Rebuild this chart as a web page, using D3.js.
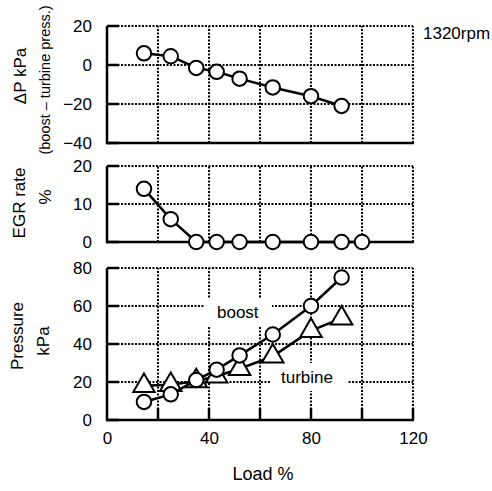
<!DOCTYPE html>
<html>
<head>
<meta charset="utf-8">
<script src="https://cdn.jsdelivr.net/npm/d3@7"></script>
<style>
  body { margin: 0; background: #fff; }
  text { font-family: "Liberation Sans", Arial, sans-serif; fill: #000; }
</style>
</head>
<body>
<svg id="chart" width="492" height="491"></svg>
<script>
// values
let load = [14.5, 25, 35, 43, 52, 65, 80, 92];
let egrLoad = [14.5, 25, 35, 43, 52, 65, 80, 92, 100];
let deltaP = [6, 4.5, -1.5, -3.5, -7, -11.5, -16, -21];
let egrRate = [14, 6, 0, 0, 0, 0, 0, 0, 0];
let boost = [9.5, 13.5, 21, 26.5, 34, 45, 60, 75];
let turbine = [18, 18.5, 20.5, 23, 27, 33.5, 47, 53.5];
let xTicks = [0, 40, 80, 120];
let xGrid = [20, 40, 60, 80, 100, 120];

var svg = d3.select('#chart');

var x = d3.scaleLinear().domain([0, 120]).range([107, 413]);

var panels = [
    { y: d3.scaleLinear().domain([-40, 20]).range([143, 26]), ticks: [-40, -20, 0, 20], xTicks: false },
    { y: d3.scaleLinear().domain([0, 20]).range([242, 166]), ticks: [0, 10, 20], xTicks: false },
    { y: d3.scaleLinear().domain([0, 80]).range([420, 268]), ticks: [0, 20, 40, 60, 80], xTicks: true }
];

var gridLayer = svg.append('g');
var maskLayer = svg.append('g');
var axisLayer = svg.append('g');
var dataLayer = svg.append('g');

panels.forEach(function (p) {
    var y0 = p.y.range()[0], y1 = p.y.range()[1];

    // dotted grid
    gridLayer.selectAll(null)
        .data(xGrid)
        .enter()
        .append('line')
        .attr('x1', d => x(d)).attr('x2', d => x(d))
        .attr('y1', y0).attr('y2', y1)
        .attr('stroke', '#000').attr('stroke-width', 2)
        .attr('stroke-dasharray', '2,1.5');
    gridLayer.selectAll(null)
        .data(p.ticks.slice(1))
        .enter()
        .append('line')
        .attr('x1', x(0)).attr('x2', x(120))
        .attr('y1', d => p.y(d)).attr('y2', d => p.y(d))
        .attr('stroke', '#000').attr('stroke-width', 2)
        .attr('stroke-dasharray', '2,1.5');

    // solid left + bottom axis
    axisLayer.append('line')
        .attr('x1', x(0)).attr('x2', x(0))
        .attr('y1', y0 + 1.25).attr('y2', y1)
        .attr('stroke', '#000').attr('stroke-width', 2.5);
    axisLayer.append('line')
        .attr('x1', x(0)).attr('x2', x(120) + 1)
        .attr('y1', y0).attr('y2', y0)
        .attr('stroke', '#000').attr('stroke-width', 2.5);

    // inward y ticks
    axisLayer.selectAll(null)
        .data(p.ticks)
        .enter()
        .append('line')
        .attr('x1', x(0)).attr('x2', x(0) + 12)
        .attr('y1', d => p.y(d)).attr('y2', d => p.y(d))
        .attr('stroke', '#000').attr('stroke-width', 2.5);

    // y tick labels
    var ya = d3.axisLeft(p.y).tickValues(p.ticks).tickSize(0).tickPadding(15);
    axisLayer.append('g')
        .attr('transform', 'translate(' + x(0) + ',0)')
        .call(ya)
        .call(g => g.select('.domain').remove())
        .selectAll('text')
        .style('font-size', '17px')
        .style('font-family', '"Liberation Sans", Arial, sans-serif');

    if (p.xTicks) {
        axisLayer.selectAll(null)
            .data(xGrid)
            .enter()
            .append('line')
            .attr('x1', d => x(d)).attr('x2', d => x(d))
            .attr('y1', y0).attr('y2', y0 - 12)
            .attr('stroke', '#000').attr('stroke-width', 2.5);
        var xa = d3.axisBottom(x).tickValues(xTicks).tickSize(0).tickPadding(12);
        axisLayer.append('g')
            .attr('transform', 'translate(0,' + y0 + ')')
            .call(xa)
            .call(g => g.select('.domain').remove())
            .selectAll('text')
            .style('font-size', '17px')
            .style('font-family', '"Liberation Sans", Arial, sans-serif');
    }
});

// white boxes behind the in-plot labels
maskLayer.append('rect').attr('x', 205).attr('y', 298).attr('width', 67).attr('height', 29).attr('fill', '#fff');
maskLayer.append('rect').attr('x', 271).attr('y', 363).attr('width', 77).attr('height', 28).attr('fill', '#fff');

function drawSeries(xs, ys, yScale, shape) {
    var pts = xs.map((d, i) => [x(d), yScale(ys[i])]);
    dataLayer.append('path')
        .attr('d', d3.line()(pts))
        .attr('fill', 'none')
        .attr('stroke', '#000')
        .attr('stroke-width', 2.5);
    dataLayer.selectAll(null)
        .data(pts)
        .enter()
        .append('path')
        .attr('d', d3.symbol().type(shape).size(shape === d3.symbolCircle ? 165 : 200))
        .attr('transform', d => 'translate(' + d[0] + ',' + d[1] + ')')
        .attr('fill', '#fff')
        .attr('stroke', '#000')
        .attr('stroke-width', 2);
}

drawSeries(load, deltaP, panels[0].y, d3.symbolCircle);
drawSeries(egrLoad, egrRate, panels[1].y, d3.symbolCircle);
drawSeries(load, turbine, panels[2].y, d3.symbolTriangle);
drawSeries(load, boost, panels[2].y, d3.symbolCircle);

// text
function label(txt, tx, ty, size, rotate, anchor) {
    svg.append('text')
        .attr('transform', 'translate(' + tx + ',' + ty + ')' + (rotate ? ' rotate(-90)' : ''))
        .attr('text-anchor', anchor || 'middle')
        .attr('dy', '0.35em')
        .style('font-size', size + 'px')
        .text(txt);
}

label('\u0394P kPa', 20, 76, 17, true);
label('(boost \u2013 turbine press.)', 45, 80, 14.5, true);
label('EGR rate', 19, 203, 17, true);
label('%', 45, 197, 17, true);
label('Pressure', 17, 336, 17, true);
label('kPa', 43, 341, 17, true);
label('boost', 217, 312, 17, false, 'start');
label('turbine', 281, 377, 17, false, 'start');
label('1320rpm', 423, 33, 17, false, 'start');
label('Load %', 263, 474, 18, false);
</script>
</body>
</html>
